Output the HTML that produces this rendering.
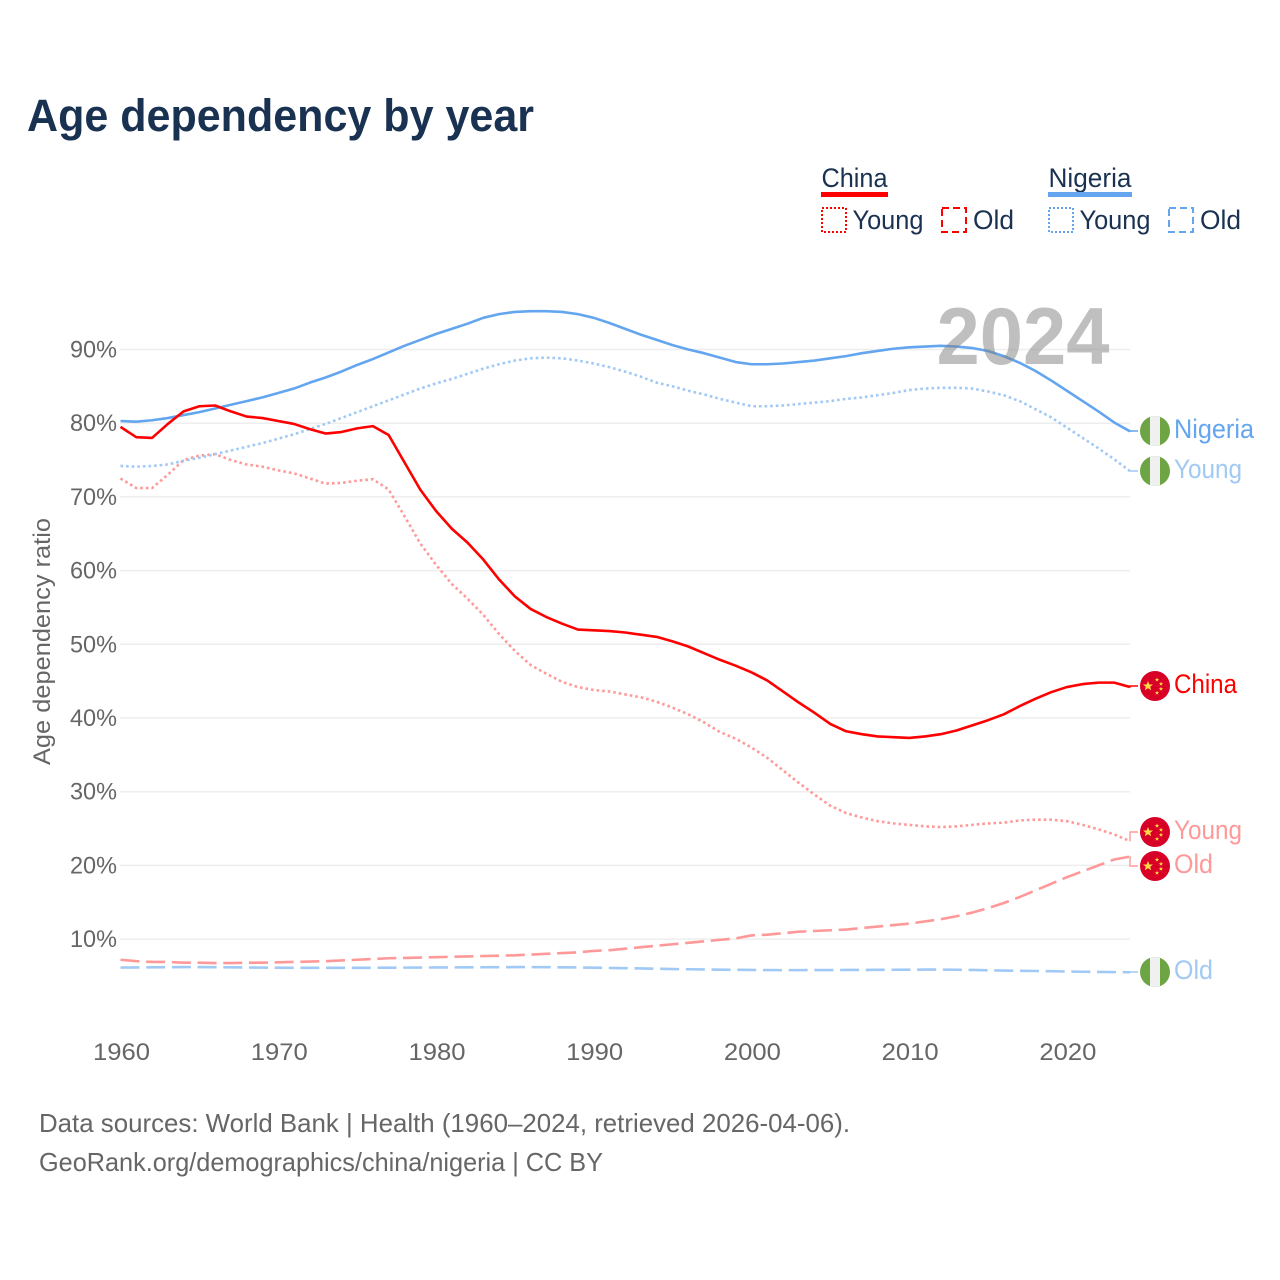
<!DOCTYPE html>
<html lang="en">
<head>
<meta charset="utf-8">
<title>Age dependency by year</title>
<style>
html,body{margin:0;padding:0;background:#fff;}
svg{display:block;font-family:"Liberation Sans",sans-serif;}
</style>
</head>
<body>
<svg id="chart" xmlns="http://www.w3.org/2000/svg" width="1280" height="1280" viewBox="0 0 1280 1280">
<defs>
<clipPath id="flag-clip"><circle cx="0" cy="0" r="15"></circle></clipPath>
<g id="flag-ng" clip-path="url(#flag-clip)">
<rect x="-15" y="-15" width="30" height="30" fill="#6DA544"></rect>
<rect x="-5" y="-15" width="10" height="30" fill="#F0F0F0"></rect>
</g>
<g id="flag-cn" clip-path="url(#flag-clip)">
<rect x="-15" y="-15" width="30" height="30" fill="#D80027"></rect>
<polygon fill="#FFDA44" points="-7,-5 -5.6,-1.5 -2,-1.5 -4.8,0.7 -3.8,4.2 -7,2.2 -10.2,4.2 -9.2,0.7 -12,-1.5 -8.4,-1.5"></polygon>
<polygon fill="#FFDA44" points="2,-8.6 2.6,-7 4.2,-7 2.9,-6 3.4,-4.4 2,-5.4 0.6,-4.4 1.1,-6 -0.2,-7 1.4,-7"></polygon>
<polygon fill="#FFDA44" points="6,-4.4 6.6,-2.8 8.2,-2.8 6.9,-1.8 7.4,-0.2 6,-1.2 4.6,-0.2 5.1,-1.8 3.8,-2.8 5.4,-2.8"></polygon>
<polygon fill="#FFDA44" points="6,0.6 6.6,2.2 8.2,2.2 6.9,3.2 7.4,4.8 6,3.8 4.6,4.8 5.1,3.2 3.8,2.2 5.4,2.2"></polygon>
<polygon fill="#FFDA44" points="2,4.6 2.6,6.2 4.2,6.2 2.9,7.2 3.4,8.8 2,7.8 0.6,8.8 1.1,7.2 -0.2,6.2 1.4,6.2"></polygon>
</g>
</defs>

<text x="27" y="131" font-size="45" font-weight="700" fill="#1a3252" textLength="507" lengthAdjust="spacingAndGlyphs">Age dependency by year</text>

<g>
<g>
<text x="821.5" y="187" font-size="27" fill="#1a3252" textLength="66" lengthAdjust="spacingAndGlyphs">China</text>
<rect x="821" y="192" width="67" height="5" fill="#ff0000"></rect>
<rect x="822" y="208" width="24" height="24" fill="none" stroke="#ff0000" stroke-width="2" stroke-dasharray="2 2"></rect>
<text x="852.5" y="229" font-size="27" fill="#1a3252" textLength="71" lengthAdjust="spacingAndGlyphs">Young</text>
<rect x="942" y="208" width="24" height="24" fill="none" stroke="#ff0000" stroke-width="2" stroke-dasharray="7 4"></rect>
<text x="973" y="229" font-size="27" fill="#1a3252" textLength="41" lengthAdjust="spacingAndGlyphs">Old</text>
</g>
<g>
<text x="1048.5" y="187" font-size="27" fill="#1a3252" textLength="83" lengthAdjust="spacingAndGlyphs">Nigeria</text>
<rect x="1048" y="192" width="84" height="5" fill="#63a6ef"></rect>
<rect x="1049" y="208" width="24" height="24" fill="none" stroke="#63a6ef" stroke-width="2" stroke-dasharray="2 2"></rect>
<text x="1079.5" y="229" font-size="27" fill="#1a3252" textLength="71" lengthAdjust="spacingAndGlyphs">Young</text>
<rect x="1169" y="208" width="24" height="24" fill="none" stroke="#63a6ef" stroke-width="2" stroke-dasharray="7 4"></rect>
<text x="1200" y="229" font-size="27" fill="#1a3252" textLength="41" lengthAdjust="spacingAndGlyphs">Old</text>
</g>
</g>

<g id="grid"></g>
<g id="y-ticks"></g>
<g id="x-ticks"></g>
<text transform="translate(50,765) rotate(-90)" x="0" y="0" font-size="24" fill="#666666" textLength="247" lengthAdjust="spacingAndGlyphs">Age dependency ratio</text>
<g id="series"></g>
<text x="936.5" y="364" font-size="81" font-weight="700" fill="#7f7f7f" fill-opacity="0.5" textLength="173" lengthAdjust="spacingAndGlyphs">2024</text>

<g>
<use href="#flag-ng" x="1155" y="431"></use>
<text x="1174" y="438" font-size="27" fill="#63a6ef" textLength="80" lengthAdjust="spacingAndGlyphs">Nigeria</text>
<use href="#flag-ng" x="1155" y="471"></use>
<text x="1174" y="478" font-size="27" fill="#a1c9f5" textLength="68" lengthAdjust="spacingAndGlyphs">Young</text>
<use href="#flag-cn" x="1155" y="686"></use>
<text x="1174" y="693" font-size="27" fill="#ff0000" textLength="63" lengthAdjust="spacingAndGlyphs">China</text>
<use href="#flag-cn" x="1155" y="832"></use>
<text x="1174" y="839" font-size="27" fill="#ff9999" textLength="68" lengthAdjust="spacingAndGlyphs">Young</text>
<use href="#flag-cn" x="1155" y="866"></use>
<text x="1174" y="873" font-size="27" fill="#ff9999" textLength="39" lengthAdjust="spacingAndGlyphs">Old</text>
<use href="#flag-ng" x="1155" y="972"></use>
<text x="1174" y="979" font-size="27" fill="#a1c9f5" textLength="39" lengthAdjust="spacingAndGlyphs">Old</text>
</g>

<text x="39" y="1132" font-size="26" fill="#666666" textLength="811" lengthAdjust="spacingAndGlyphs">Data sources: World Bank | Health (1960–2024, retrieved 2026-04-06).</text>
<text x="39" y="1171" font-size="26" fill="#666666" textLength="564" lengthAdjust="spacingAndGlyphs">GeoRank.org/demographics/china/nigeria | CC BY</text>
</svg>

<script>
const startYear = 1960;
const yTickValues = [10, 20, 30, 40, 50, 60, 70, 80, 90];
const yTickLabels = ["10%", "20%", "30%", "40%", "50%", "60%", "70%", "80%", "90%"];
const xTickLabels = ["1960", "1970", "1980", "1990", "2000", "2010", "2020"];

const chinaTotal = [79.5,78.1,78.0,79.9,81.6,82.3,82.4,81.6,80.9,80.7,80.3,79.9,79.2,78.6,78.8,79.3,79.6,78.4,74.7,71.0,68.1,65.7,63.8,61.5,58.8,56.5,54.8,53.7,52.8,52.0,51.9,51.8,51.6,51.3,51.0,50.4,49.7,48.8,47.9,47.1,46.2,45.1,43.6,42.1,40.7,39.2,38.2,37.8,37.5,37.4,37.3,37.5,37.8,38.3,39.0,39.7,40.5,41.6,42.6,43.5,44.2,44.6,44.8,44.8,44.2];
const chinaYoung = [72.5,71.2,71.2,73.0,75.0,75.6,75.8,75.0,74.4,74.1,73.6,73.2,72.5,71.8,71.9,72.2,72.4,71.0,67.4,63.7,60.8,58.2,56.2,54.0,51.4,49.1,47.2,46.0,44.9,44.2,43.8,43.6,43.2,42.8,42.2,41.4,40.5,39.4,38.1,37.2,36.0,34.6,32.9,31.2,29.6,28.1,27.1,26.5,26.0,25.7,25.5,25.3,25.2,25.3,25.5,25.7,25.8,26.1,26.2,26.2,26.0,25.5,24.9,24.2,23.3];
const chinaOld = [7.2,7.0,6.9,6.9,6.8,6.8,6.75,6.75,6.8,6.8,6.85,6.9,6.95,7.0,7.1,7.2,7.3,7.4,7.45,7.5,7.55,7.6,7.65,7.7,7.75,7.8,7.9,8.0,8.1,8.2,8.4,8.5,8.7,8.9,9.1,9.3,9.5,9.7,9.9,10.1,10.5,10.6,10.8,11.0,11.1,11.2,11.3,11.5,11.7,11.9,12.1,12.4,12.7,13.1,13.6,14.2,14.9,15.7,16.6,17.5,18.4,19.2,20.0,20.8,21.2];
const nigeriaTotal = [80.3,80.2,80.4,80.7,81.1,81.5,82.0,82.5,83.0,83.5,84.1,84.7,85.5,86.2,87.0,87.9,88.7,89.6,90.5,91.3,92.1,92.8,93.5,94.3,94.8,95.1,95.2,95.2,95.1,94.8,94.3,93.6,92.8,92.0,91.3,90.6,90.0,89.5,88.9,88.3,88.0,88.0,88.1,88.3,88.5,88.8,89.1,89.5,89.8,90.1,90.3,90.4,90.5,90.4,90.2,89.8,89.1,88.2,87.1,85.8,84.4,83.0,81.6,80.1,78.9];
const nigeriaYoung = [74.2,74.1,74.2,74.4,74.9,75.3,75.8,76.3,76.8,77.3,77.9,78.5,79.2,79.9,80.7,81.5,82.3,83.1,83.9,84.7,85.4,86.0,86.7,87.4,88.0,88.5,88.8,88.9,88.8,88.5,88.1,87.6,87.0,86.3,85.5,85.0,84.4,83.9,83.3,82.8,82.3,82.3,82.4,82.6,82.8,83.0,83.3,83.5,83.8,84.1,84.5,84.7,84.8,84.8,84.7,84.3,83.8,83.0,81.9,80.8,79.4,78.0,76.6,75.1,73.5];
const nigeriaOld = [6.14,6.15,6.17,6.19,6.2,6.2,6.19,6.17,6.15,6.13,6.12,6.11,6.1,6.1,6.1,6.1,6.11,6.12,6.13,6.14,6.15,6.16,6.17,6.18,6.19,6.2,6.2,6.19,6.17,6.15,6.12,6.09,6.06,6.02,5.98,5.94,5.91,5.88,5.85,5.83,5.81,5.8,5.79,5.79,5.8,5.8,5.81,5.82,5.83,5.84,5.85,5.86,5.86,5.84,5.81,5.77,5.73,5.7,5.67,5.64,5.6,5.57,5.55,5.52,5.5];

function xScale(year) { return 120.5 + (year - startYear) * 15.773; }
function yScale(value) { return 349.5 + (90 - value) * 7.37; }

const svgNS = "http://www.w3.org/2000/svg";
const grid = document.getElementById("grid");
const yTicks = document.getElementById("y-ticks");
const xTicks = document.getElementById("x-ticks");
const series = document.getElementById("series");

yTickValues.forEach(function (v, i) {
  const line = document.createElementNS(svgNS, "line");
  
  
  line.setAttribute("x1", 120);
  line.setAttribute("x2", 1130);
  line.setAttribute("y1", yScale(v));
  line.setAttribute("y2", yScale(v));
  line.setAttribute("stroke", "#eeeeee");
  line.setAttribute("stroke-width", "1.5");
  grid.appendChild(line);

  const label = document.createElementNS(svgNS, "text");
  
  
  label.setAttribute("x", 70);
  label.setAttribute("y", yScale(v) + 8);
  label.setAttribute("font-size", "24");
  label.setAttribute("fill", "#666666");
  label.setAttribute("textLength", "47");
  label.setAttribute("lengthAdjust", "spacingAndGlyphs");
  label.textContent = yTickLabels[i];
  yTicks.appendChild(label);
});

xTickLabels.forEach(function (t) {
  const label = document.createElementNS(svgNS, "text");
  
  
  label.setAttribute("x", xScale(Number(t)) + 1);
  label.setAttribute("y", 1060);
  label.setAttribute("font-size", "24");
  label.setAttribute("fill", "#666666");
  label.setAttribute("text-anchor", "middle");
  label.setAttribute("textLength", "57");
  label.setAttribute("lengthAdjust", "spacingAndGlyphs");
  label.textContent = t;
  xTicks.appendChild(label);
});

function drawSeries(values, color, dash, name, labelY, stairX) {
  const last = values.length - 1;
  const pts = values.map(function (v, i) {
    return xScale(startYear + i).toFixed(2) + "," + yScale(v).toFixed(2);
  });
  const path = document.createElementNS(svgNS, "polyline");
  
  
  path.setAttribute("points", pts.join(" "));
  path.setAttribute("fill", "none");
  path.setAttribute("stroke", color);
  path.setAttribute("stroke-width", "2.6");
  path.setAttribute("stroke-linejoin", "round");
  if (dash) { path.setAttribute("stroke-dasharray", dash); }
  series.appendChild(path);

  const ex = xScale(startYear + last);
  const ey = yScale(values[last]);
  const conn = document.createElementNS(svgNS, "polyline");
  
  
  conn.setAttribute("points", ex + "," + ey + " " + stairX + "," + ey + " " + stairX + "," + labelY + " 1138," + labelY);
  conn.setAttribute("fill", "none");
  conn.setAttribute("stroke", color);
  conn.setAttribute("stroke-width", "1.4");
  series.appendChild(conn);
}

drawSeries(nigeriaOld, "#a1c9f5", "19 6.7", "nigeria-old-line", 972, 1130);
drawSeries(chinaOld, "#ff9999", "19 6.7", "china-old-line", 866, 1130);
drawSeries(chinaYoung, "#ff9999", "2.6 3", "china-young-line", 832, 1130);
drawSeries(nigeriaYoung, "#a1c9f5", "2.6 3", "nigeria-young-line", 471, 1130);
drawSeries(nigeriaTotal, "#63a6ef", null, "nigeria-total-line", 431, 1130);
drawSeries(chinaTotal, "#ff0000", null, "china-total-line", 686, 1130);
</script>
</body>
</html>
